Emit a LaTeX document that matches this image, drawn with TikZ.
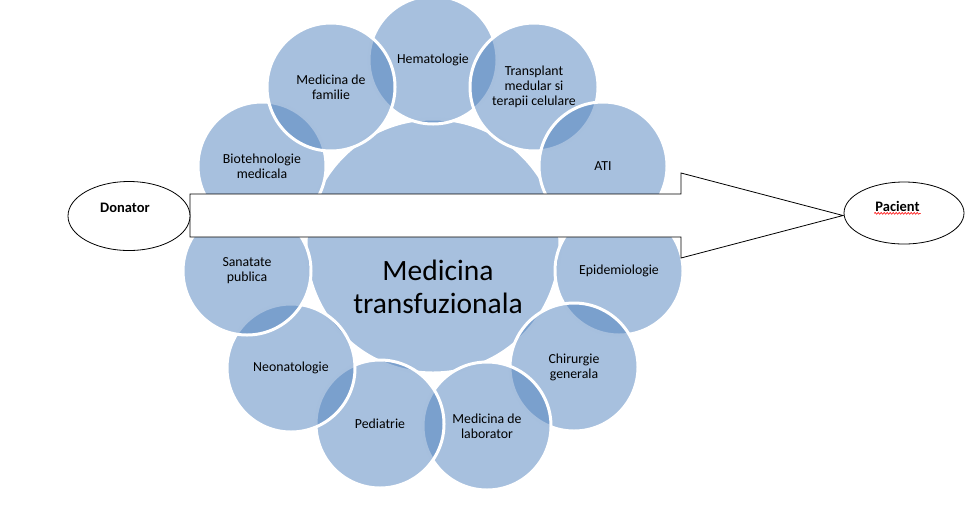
\documentclass[tikz,border=0pt]{standalone}
\usepackage{fontspec}
\setmainfont{Carlito}
\usetikzlibrary{shapes.geometric,decorations.pathmorphing}
\definecolor{accentblue}{RGB}{79,129,189}
\begin{document}
\begin{tikzpicture}[x=1pt,y=-1pt,
  bubble/.style={circle, minimum size=128pt, inner sep=0pt, fill=accentblue, fill opacity=0.5, text opacity=1, draw=white, line width=3pt, align=center, text=black, font=\fontsize{13.8}{15}\selectfont},
  hub/.style={bubble, minimum size=254pt},
  hubtext/.style={align=center, font=\fontsize{29.5}{33}\selectfont, text=black},
  endpoint/.style={ellipse, draw=black, line width=0.8pt, fill=white, inner sep=0pt},
  endtext/.style={font=\fontsize{14.5}{16}\selectfont\bfseries, text=black, inner sep=1pt},
  bigarrow/.style={draw=black, line width=0.8pt, fill=white, line join=miter}]
\useasboundingbox (0,0) rectangle (979,507);
\clip (0,0) rectangle (979,507);
% hub and outer circles
\node[hub] (hub) at (433,246) {};
\node[bubble] (hem) at (433,60) {Hematologie};
\node[bubble] (trans) at (534,87) {Transplant\\medular si\\terapii celulare};
\node[bubble] (ati) at (603,166) {ATI};
\node[bubble] (epi) at (619,271) {Epidemiologie};
\node[bubble] (chir) at (574,367) {Chirurgie\\generala};
\node[bubble] (lab) at (487,426) {Medicina de\\laborator};
\node[bubble] (ped) at (380,424) {Pediatrie};
\node[bubble] (neo) at (291,368) {Neonatologie};
\node[bubble] (san) at (247,271) {Sanatate\\publica};
\node[bubble] (bio) at (262,166) {Biotehnologie\\medicala};
\node[bubble] (fam) at (331,87) {Medicina de\\familie};
% big block arrow
\coordinate (a1) at (190,194);
\coordinate (a2) at (681,194);
\coordinate (a3) at (681,173);
\coordinate (tip) at (843,215.5);
\coordinate (a5) at (681,258);
\coordinate (a6) at (681,237);
\coordinate (a7) at (190,237);
\draw[bigarrow] (a1) -- (a2) -- (a3) -- (tip) -- (a5) -- (a6) -- (a7) -- cycle;
% hub text
\node[hubtext] (hubt) at (438,287) {Medicina\\transfuzionala};
% end ellipses
\node[endpoint, minimum width=122pt, minimum height=69pt] (don) at (129,216) {};
\node[endtext] (dont) at (125,208) {Donator};
\node[endpoint, minimum width=120pt, minimum height=62pt] (pac) at (904,213) {};
\node[endtext] (pact) at (897.5,206) {Pacient};
\draw[red, line width=0.6pt, decorate, decoration={snake, amplitude=0.9pt, segment length=3pt}] ([yshift=-1pt]pact.south west) -- ([yshift=-1pt]pact.south east);
\end{tikzpicture}
\end{document}
